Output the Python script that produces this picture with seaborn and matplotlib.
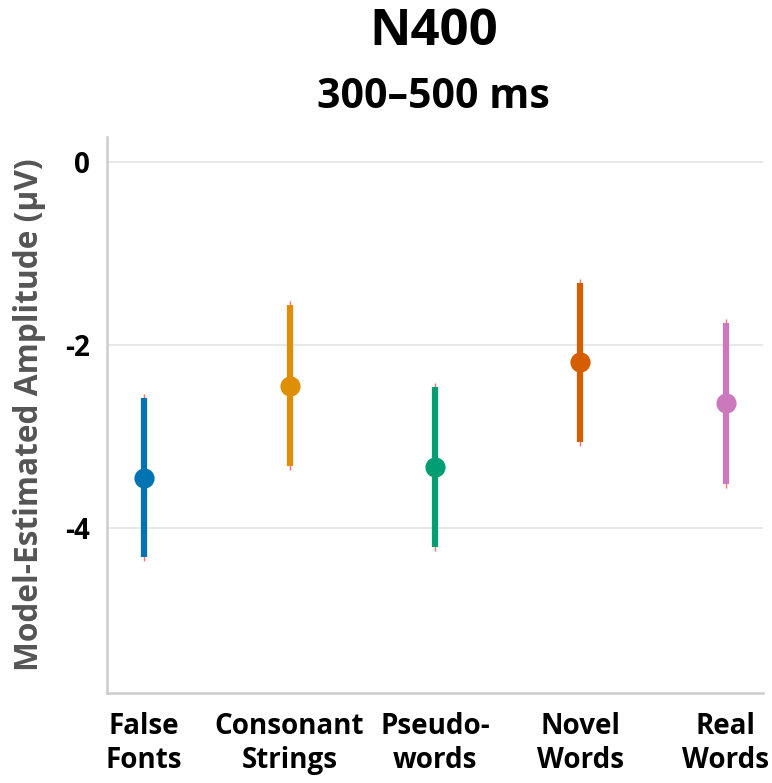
import matplotlib
matplotlib.use("Agg")
import matplotlib.pyplot as plt
import seaborn as sns
import pandas as pd

categories = ["False\nFonts", "Consonant\nStrings", "Pseudo-\nwords", "Novel\nWords", "Real\nWords"]
means = [-3.45, -2.45, -3.33, -2.19, -2.63]
lower = [-4.32, -3.32, -4.21, -3.06, -3.52]
upper = [-2.58, -1.56, -2.46, -1.32, -1.76]
colors = ["#0173b2", "#de8f05", "#029e73", "#d55e00", "#cc78bc"]
yticks = [0, -2, -4]

sns.set_theme(style="white")
plt.rcParams["font.family"] = ["Open Sans", "DejaVu Sans"]
plt.rcParams["font.weight"] = "bold"

rows = []
for c, lo, m, hi in zip(categories, lower, means, upper):
    for v in (lo, m, hi):
        rows.append({"cond": c, "amp": v})
df = pd.DataFrame(rows)

fig = plt.figure(figsize=(7.72, 7.83), dpi=100)
ax = fig.add_axes([107/772, 1-693/783, (763-107)/772, (693-137)/783])

# thin red whisker underlay
for i, (lo, hi) in enumerate(zip(lower, upper)):
    ax.vlines(i, lo - 0.04, hi + 0.04, color="#ff3030", lw=1.0, alpha=0.7, zorder=1)

sns.pointplot(data=df, x="cond", y="amp", hue="cond", palette=colors,
              estimator="median", errorbar=("pi", 100), linestyle="none",
              markersize=12.5, err_kws={"linewidth": 4.5, "solid_capstyle": "butt"},
              legend=False, ax=ax, zorder=3)

ax.set_ylim(-5.8, 0.27)
ax.set_xlim(-0.255, 4.255)
ax.set_yticks(yticks)
ax.set_yticklabels([str(t) for t in yticks])
ax.yaxis.grid(True, color="#e6e6e6", lw=1.3)
ax.set_axisbelow(True)
for s in ["top", "right"]:
    ax.spines[s].set_visible(False)
for s in ["left", "bottom"]:
    ax.spines[s].set_color("#cccccc")
    ax.spines[s].set_linewidth(1.8)
ax.tick_params(axis="both", length=0, labelsize=20, labelcolor="black")
ax.tick_params(axis="x", pad=14)
ax.tick_params(axis="y", pad=12)
for lab in ax.get_xticklabels() + ax.get_yticklabels():
    lab.set_fontweight("bold")
ax.set_xlabel("")
ax.set_ylabel("Model-Estimated Amplitude (µV)", fontsize=22.8, color="#555555",
              fontweight="bold", labelpad=14)

fig.text(0.562, 1-32/783, "N400", ha="center", va="center", fontsize=36.6,
         fontweight="bold", color="black")
fig.text(0.562, 1-97/783, "300–500 ms", ha="center", va="center", fontsize=29.5,
         fontweight="bold", color="black")

fig.savefig("out.png", dpi=100)
